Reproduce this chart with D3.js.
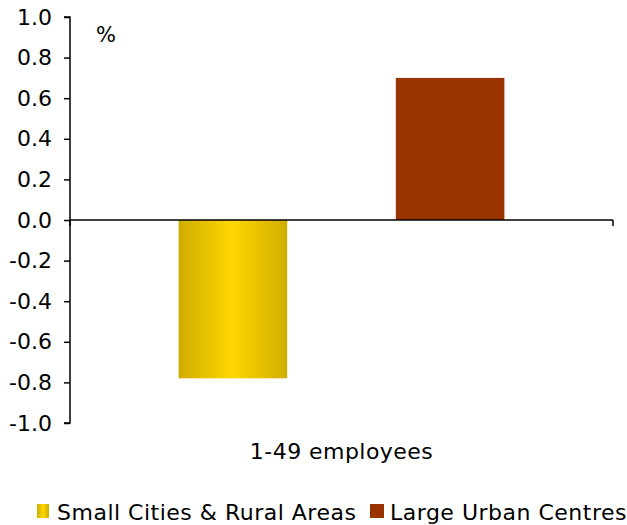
<!DOCTYPE html>
<html><head><meta charset="utf-8">
<script src="https://cdn.jsdelivr.net/npm/d3@7"></script>
<style>body{margin:0;background:#fff}svg{display:block}text{font-family:"DejaVu Sans",Verdana,sans-serif;fill:#000}</style>
</head><body><svg id="c" width="627" height="525"></svg>
<script>
const categories = ["1-49 employees"];
const seriesNames = ["Small Cities & Rural Areas", "Large Urban Centres"];
const smallCities = [-0.78];
const largeUrban = [0.70];
const yTicks = [-1.0,-0.8,-0.6,-0.4,-0.2,0.0,0.2,0.4,0.6,0.8,1.0];
const unitLabel = "%";

const svg = d3.select("#c");
const m = {l:70, r:14, t:17, b:102};
const W = 627, H = 525;
const x0 = d3.scaleBand().domain(categories).range([m.l, W-m.r]);
const x1 = d3.scaleBand().domain(seriesNames).range([0, x0.bandwidth()]).paddingInner(0.5).paddingOuter(0.5);
const y = d3.scaleLinear().domain([-1,1]).range([H-m.b, m.t]);

const defs = svg.append("defs");
const g = defs.append("linearGradient").attr("id","gold").attr("x1","0").attr("x2","1").attr("y1","0").attr("y2","0");
g.append("stop").attr("offset","0%").attr("stop-color","#CFAD00");
g.append("stop").attr("offset","50%").attr("stop-color","#FFD700");
g.append("stop").attr("offset","100%").attr("stop-color","#CFAD00");

const colors = ["url(#gold)", "#993300"];
const series = [smallCities, largeUrban];

categories.forEach((c, ci) => {
  series.forEach((s, si) => {
    const v = s[ci];
    svg.append("rect")
      .attr("x", x0(c) + x1(seriesNames[si]))
      .attr("width", x1.bandwidth())
      .attr("y", y(Math.max(0, v)))
      .attr("height", Math.abs(y(v) - y(0)))
      .attr("fill", colors[si]);
  });
});

// y axis
const ya = svg.append("g").attr("transform", `translate(${m.l},0)`)
  .call(d3.axisLeft(y).tickValues(yTicks).tickFormat(d3.format(".1f")).tickSize(6).tickPadding(12));
ya.select(".domain").attr("stroke","#000").attr("stroke-width",1.5).attr("d", `M-6,${y(1)}H0V${y(-1)}H-6`);
ya.selectAll(".tick line").attr("stroke","#000").attr("stroke-width",1.5);
ya.selectAll("text").attr("font-size","22px").style("font-family","DejaVu Sans, sans-serif").text(d => d3.format(".1f")(d).replace("−","-"));

// zero line (category axis)
svg.append("path")
  .attr("d", `M${m.l},${y(0)}H${W-m.r}M${m.l},${y(0)}v6M${W-m.r},${y(0)}v6`)
  .attr("stroke","#000").attr("stroke-width",1.5).attr("fill","none");

// category label
svg.selectAll(".cat").data(categories).join("text")
  .attr("x", d => x0(d) + x0.bandwidth()/2).attr("y", 459)
  .attr("text-anchor","middle").attr("font-size","22px").attr("letter-spacing","0.45px").text(d => d);

svg.append("text").attr("x", 96).attr("y", 42).attr("font-size","21px").text(unitLabel);

// legend
const leg = [{x:37, tx:57, w:12}, {x:370, tx:390, w:14}];
seriesNames.forEach((n, i) => {
  svg.append("rect").attr("x", leg[i].x).attr("y", 504).attr("width", leg[i].w).attr("height", 14).attr("fill", colors[i]);
  svg.append("text").attr("x", leg[i].tx).attr("y", 520).attr("font-size","22px").attr("letter-spacing","0.5px").text(n);
});
</script></body></html>
